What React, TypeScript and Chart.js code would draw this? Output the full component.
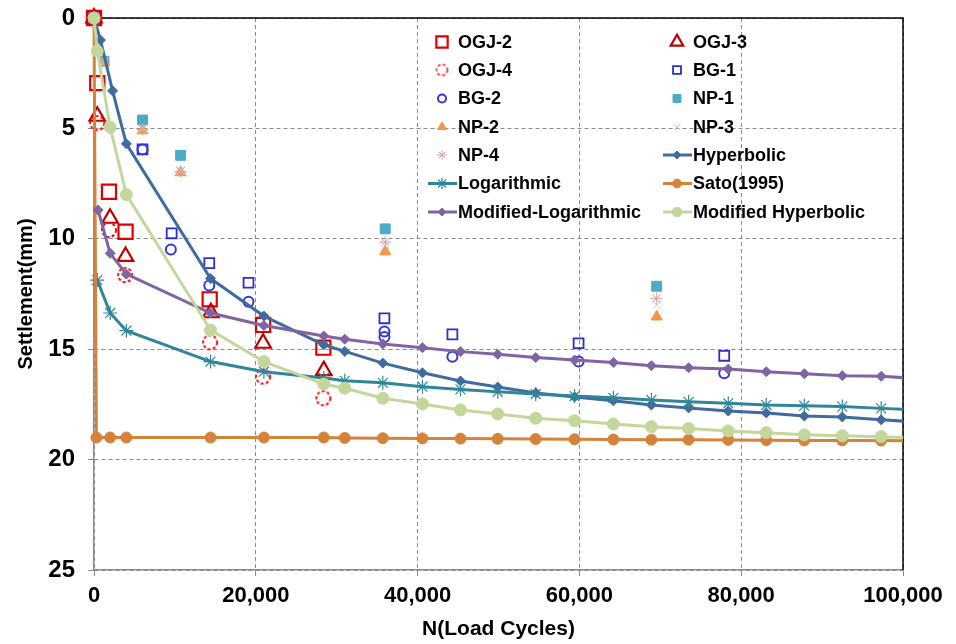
import React, { useEffect, useRef } from 'react';
import { Chart, registerables } from 'chart.js';

Chart.register(...registerables);

// ---------------- Data ----------------
const xTickValues = [0, 20000, 40000, 60000, 80000, 100000];
const yTickValues = [0, 5, 10, 15, 20, 25];

// measured test data
const ogj2X = [0, 400, 1850, 3900, 14300, 20900, 28350];
const ogj2Y = [0, 2.95, 7.87, 9.68, 12.74, 13.9, 14.93];

const ogj3X = [0, 400, 1980, 3900, 14450, 20900, 28400];
const ogj3Y = [0, 4.45, 9.07, 10.8, 13.35, 14.73, 15.97];

const ogj4X = [0, 400, 1850, 3850, 14350, 20900, 28350];
const ogj4Y = [0, 4.76, 9.6, 11.64, 14.69, 16.24, 17.22];

const bg1X = [0, 6000, 9600, 14250, 19100, 35900, 44300, 59900, 77900];
const bg1Y = [0, 5.95, 9.75, 11.1, 11.99, 13.6, 14.33, 14.73, 15.3];

const bg2X = [0, 6000, 9500, 14250, 19100, 35900, 35900, 44300, 59900, 77900];
const bg2Y = [0, 5.95, 10.48, 12.12, 12.85, 14.2, 14.45, 15.34, 15.56, 16.09];

const npX = [0, 1240, 6000, 10700, 36000, 69550];
const np1Y = [0, 1.96, 4.62, 6.22, 9.55, 12.15];
const np2Y = [0, 2.0, 5.1, 7.0, 10.58, 13.53];
const np3Y = [0, 2.0, 5.0, 6.9, 10.3, 13.0];
const np4Y = [0, 1.96, 5.05, 6.95, 10.15, 12.7];

// model curves
const tailX = [14400, 21000, 28400, 31000, 35700, 40600, 45300, 49900, 54600, 59400, 64200, 68900, 73500, 78400, 83100, 87800, 92500, 97300, 102000];

const hypX = [0, 800, 2300, 4000, ...tailX];
const hypY = [0, 1.0, 3.3, 5.7, 11.8, 13.5, 14.8, 15.1, 15.63, 16.07, 16.44, 16.71, 16.98, 17.16, 17.34, 17.53, 17.66, 17.8, 17.89, 18.03, 18.07, 18.2, 18.3];

const logX = [400, 2000, 4000, ...tailX];
const logY = [11.87, 13.36, 14.16, 15.56, 16.02, 16.3, 16.43, 16.52, 16.7, 16.82, 16.93, 17.03, 17.12, 17.2, 17.3, 17.38, 17.45, 17.53, 17.56, 17.6, 17.68, 17.75];

const satoX = [0, 300, 2000, 4000, ...tailX];
const satoY = [0, 19.0, 19.0, 19.0, 19.0, 19.0, 19.0, 19.02, 19.03, 19.04, 19.05, 19.06, 19.07, 19.08, 19.09, 19.1, 19.1, 19.11, 19.12, 19.13, 19.13, 19.14, 19.15];

const mlogX = [500, 2000, 4000, ...tailX];
const mlogY = [8.7, 10.66, 11.6, 13.36, 13.93, 14.4, 14.55, 14.76, 14.93, 15.11, 15.23, 15.38, 15.49, 15.6, 15.75, 15.84, 15.9, 16.02, 16.11, 16.2, 16.23, 16.33];

const mhypX = [0, 400, 2000, 4000, ...tailX];
const mhypY = [0, 1.5, 4.95, 8.0, 14.13, 15.56, 16.58, 16.77, 17.22, 17.48, 17.75, 17.93, 18.13, 18.24, 18.39, 18.51, 18.59, 18.7, 18.78, 18.88, 18.92, 18.96, 19.02];

// --------------------------------------
const FONT = '"Liberation Sans", Arial, sans-serif';

const pts = (xs: number[], ys: number[]) => xs.map((x, i) => ({ x, y: ys[i] }));

type Sty = {
  label: string;
  xs: number[];
  ys: number[];
  line: boolean;
  pointStyle: string;
  radius: number;
  border: string;
  fill: string;
  bw: number;
  lineColor?: string;
};

const series: Sty[] = [
  { label: 'OGJ-2', xs: ogj2X, ys: ogj2Y, line: false, pointStyle: 'rect', radius: 10, border: '#E00000', fill: 'rgba(0,0,0,0)', bw: 2.2 },
  { label: 'OGJ-3', xs: ogj3X, ys: ogj3Y, line: false, pointStyle: 'triangle', radius: 9, border: '#C00000', fill: 'rgba(0,0,0,0)', bw: 2.2 },
  { label: 'OGJ-4', xs: ogj4X, ys: ogj4Y, line: false, pointStyle: 'dashcircle', radius: 7, border: '#F01010', fill: 'rgba(0,0,0,0)', bw: 2 },
  { label: 'BG-1', xs: bg1X, ys: bg1Y, line: false, pointStyle: 'rect', radius: 7, border: '#2E2ED0', fill: 'rgba(0,0,0,0)', bw: 1.8 },
  { label: 'BG-2', xs: bg2X, ys: bg2Y, line: false, pointStyle: 'circle', radius: 5, border: '#3535D8', fill: 'rgba(0,0,0,0)', bw: 2 },
  { label: 'NP-1', xs: npX, ys: np1Y, line: false, pointStyle: 'rect', radius: 7, border: '#4BACC6', fill: '#4BACC6', bw: 1 },
  { label: 'NP-2', xs: npX, ys: np2Y, line: false, pointStyle: 'triangle', radius: 6.5, border: '#F79646', fill: '#F79646', bw: 1 },
  { label: 'NP-3', xs: npX, ys: np3Y, line: false, pointStyle: 'crossRot', radius: 6, border: '#C8C8C8', fill: '#C8C8C8', bw: 1 },
  { label: 'NP-4', xs: npX, ys: np4Y, line: false, pointStyle: 'star', radius: 6, border: '#D8A49C', fill: '#D8A49C', bw: 1 },
  { label: 'Hyperbolic', xs: hypX, ys: hypY, line: true, pointStyle: 'rectRot', radius: 5, border: '#3F6B9F', fill: '#3F6B9F', bw: 1, lineColor: '#3F6B9F' },
  { label: 'Logarithmic', xs: logX, ys: logY, line: true, pointStyle: 'star', radius: 7, border: '#2F8699', fill: '#2F8699', bw: 1.2, lineColor: '#2F8699' },
  { label: 'Sato(1995)', xs: satoX, ys: satoY, line: true, pointStyle: 'circle', radius: 5.5, border: '#D5823A', fill: '#D5823A', bw: 1, lineColor: '#D5823A' },
  { label: 'Modified-Logarithmic', xs: mlogX, ys: mlogY, line: true, pointStyle: 'rectRot', radius: 5, border: '#8064A2', fill: '#8064A2', bw: 1, lineColor: '#8064A2' },
  { label: 'Modified Hyperbolic', xs: mhypX, ys: mhypY, line: true, pointStyle: 'circle', radius: 6, border: '#C3D69B', fill: '#C3D69B', bw: 1, lineColor: '#C3D69B' },
];

function makeDashCircle(r: number, color: string, bw: number) {
  const size = Math.ceil(2 * r + bw + 4);
  const c = document.createElement('canvas');
  c.width = size;
  c.height = size;
  const g = c.getContext('2d')!;
  g.strokeStyle = color;
  g.lineWidth = bw;
  g.setLineDash([3, 2.2]);
  g.beginPath();
  g.arc(size / 2, size / 2, r, 0, Math.PI * 2);
  g.stroke();
  return c;
}

function drawMark(ctx: CanvasRenderingContext2D, s: Sty, x: number, y: number, r: number, img?: HTMLCanvasElement) {
  ctx.save();
  ctx.lineWidth = s.bw;
  ctx.strokeStyle = s.border;
  ctx.fillStyle = s.fill;
  ctx.beginPath();
  switch (s.pointStyle) {
    case 'dashcircle':
      if (img) ctx.drawImage(img, x - img.width / 2, y - img.height / 2);
      break;
    case 'rect': {
      const h = r * Math.SQRT1_2;
      ctx.rect(x - h, y - h, 2 * h, 2 * h);
      ctx.fill();
      ctx.stroke();
      break;
    }
    case 'rectRot':
      ctx.moveTo(x, y - r);
      ctx.lineTo(x + r, y);
      ctx.lineTo(x, y + r);
      ctx.lineTo(x - r, y);
      ctx.closePath();
      ctx.fill();
      ctx.stroke();
      break;
    case 'circle':
      ctx.arc(x, y, r, 0, Math.PI * 2);
      ctx.fill();
      ctx.stroke();
      break;
    case 'triangle': {
      let a = 0;
      ctx.moveTo(x + Math.sin(a) * r, y - Math.cos(a) * r);
      a += (2 * Math.PI) / 3;
      ctx.lineTo(x + Math.sin(a) * r, y - Math.cos(a) * r);
      a += (2 * Math.PI) / 3;
      ctx.lineTo(x + Math.sin(a) * r, y - Math.cos(a) * r);
      ctx.closePath();
      ctx.fill();
      ctx.stroke();
      break;
    }
    case 'crossRot': {
      const d = r * Math.SQRT1_2;
      ctx.moveTo(x - d, y - d);
      ctx.lineTo(x + d, y + d);
      ctx.moveTo(x - d, y + d);
      ctx.lineTo(x + d, y - d);
      ctx.stroke();
      break;
    }
    case 'star': {
      const d = r * Math.SQRT1_2;
      ctx.moveTo(x - d, y - d);
      ctx.lineTo(x + d, y + d);
      ctx.moveTo(x - d, y + d);
      ctx.lineTo(x + d, y - d);
      ctx.moveTo(x, y - r);
      ctx.lineTo(x, y + r);
      ctx.moveTo(x - r, y);
      ctx.lineTo(x + r, y);
      ctx.stroke();
      break;
    }
  }
  ctx.restore();
}

export default function App() {
  const ref = useRef<HTMLCanvasElement | null>(null);

  useEffect(() => {
    document.body.style.margin = '0';
    const canvas = ref.current;
    if (!canvas) return;

    const dashImg = makeDashCircle(7, '#F01010', 2);
    const dashImgSmall = makeDashCircle(5.5, '#F01010', 1.5);

    const clip = { left: 20, top: 20, right: 0, bottom: 20 };

    const datasets: any[] = series.map((s) => ({
      label: s.label,
      data: pts(s.xs, s.ys),
      showLine: s.line,
      borderColor: s.line ? s.lineColor : s.border,
      borderWidth: s.line ? 3 : 0,
      backgroundColor: s.fill,
      pointStyle: s.pointStyle === 'dashcircle' ? dashImg : s.pointStyle,
      pointRadius: s.radius,
      pointBorderColor: s.border,
      pointBackgroundColor: s.fill,
      pointBorderWidth: s.bw,
      tension: 0,
      clip,
    }));
    // Excel draws later series on top: reverse the order
    datasets.forEach((d, i) => (d.order = datasets.length - i));

    const framePlugin = {
      id: 'frame',
      beforeDatasetsDraw(chart: any) {
        const { ctx, chartArea: a } = chart;
        ctx.save();
        ctx.strokeStyle = '#000';
        ctx.lineWidth = 1.5;
        ctx.beginPath();
        ctx.moveTo(a.left, a.top);
        ctx.lineTo(a.right, a.top);
        ctx.lineTo(a.right, a.bottom);
        ctx.stroke();
        ctx.restore();
      },
    };

    const legendPlugin = {
      id: 'customLegend',
      afterDraw(chart: any) {
        const ctx: CanvasRenderingContext2D = chart.ctx;
        const colMarker = [442, 677];
        const colText = [458, 693];
        const rowY = [42, 70, 98.5, 127, 155, 183.5, 212];
        ctx.save();
        ctx.font = `bold 18px ${FONT}`;
        ctx.textBaseline = 'middle';
        ctx.textAlign = 'left';
        series.forEach((s, i) => {
          const col = i % 2;
          const row = Math.floor(i / 2);
          const mx = colMarker[col];
          const y = rowY[row];
          if (s.line) {
            ctx.save();
            ctx.strokeStyle = s.lineColor!;
            ctx.lineWidth = 3;
            ctx.beginPath();
            ctx.moveTo(mx - 14, y);
            ctx.lineTo(mx + 15, y);
            ctx.stroke();
            ctx.restore();
          }
          drawMark(ctx, s, mx, y, s.radius * 0.8, dashImgSmall);
          ctx.fillStyle = '#000';
          ctx.fillText(s.label, colText[col], y + 1);
        });
        ctx.restore();
      },
    };

    const chart = new Chart(canvas, {
      type: 'scatter',
      data: { datasets },
      options: {
        animation: false,
        responsive: false,
        maintainAspectRatio: false,
        layout: { autoPadding: false, padding: { top: 18, right: 53, left: 0, bottom: 0 } },
        plugins: {
          legend: { display: false },
          tooltip: { enabled: false },
        },
        scales: {
          x: {
            type: 'linear',
            min: 0,
            max: 100000,
            afterBuildTicks: (scale: any) => {
              scale.ticks = xTickValues.map((v) => ({ value: v }));
            },
            afterFit: (scale: any) => {
              scale.height = 74;
              scale.paddingLeft = 0;
              scale.paddingRight = 0;
            },
            ticks: {
              color: '#000',
              font: { family: FONT, size: 22, weight: 'bold' },
              padding: 7,
              maxRotation: 0,
              callback: (v: any) => Number(v).toLocaleString('en-US'),
            },
            grid: {
              color: '#8a8a8a',
              lineWidth: 1,
              tickLength: 6,
              tickColor: '#8a8a8a',
              tickBorderDash: [],
            },
            border: { display: true, color: '#8a8a8a', width: 1.5, dash: [4, 3] },
            title: {
              display: true,
              text: 'N(Load Cycles)',
              color: '#000',
              font: { family: FONT, size: 21, weight: 'bold' },
              padding: { top: 0, bottom: 2 },
            },
          },
          y: {
            type: 'linear',
            reverse: true,
            min: 0,
            max: 25,
            afterBuildTicks: (scale: any) => {
              scale.ticks = yTickValues.map((v) => ({ value: v }));
            },
            afterFit: (scale: any) => {
              scale.width = 94;
              scale.paddingTop = 0;
              scale.paddingBottom = 0;
            },
            ticks: {
              color: '#000',
              font: { family: FONT, size: 24, weight: 'bold' },
              padding: 13,
            },
            grid: {
              color: '#8a8a8a',
              lineWidth: 1,
              tickLength: 6,
              tickColor: '#8a8a8a',
              tickBorderDash: [],
            },
            border: { display: true, color: '#8a8a8a', width: 1.5, dash: [4, 3] },
            title: {
              display: true,
              text: 'Settlement(mm)',
              color: '#000',
              font: { family: FONT, size: 20, weight: 'bold' },
              padding: { top: 14, bottom: 0 },
            },
          },
        },
      } as any,
      plugins: [framePlugin, legendPlugin],
    });

    return () => chart.destroy();
  }, []);

  return (
    <div style={{ position: 'absolute', left: 0, top: 0, width: 956, height: 644, background: '#fff' }}>
      <canvas ref={ref} width={956} height={644} style={{ width: 956, height: 644, display: 'block' }} />
    </div>
  );
}
